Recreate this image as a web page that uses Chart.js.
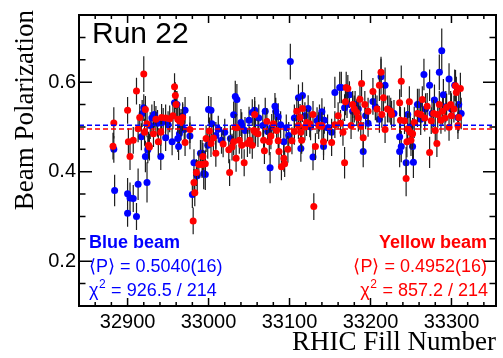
<!DOCTYPE html>
<html lang="en">
<head>
<meta charset="UTF-8" />
<title>Run 22 Beam Polarization</title>
<script src="https://cdn.jsdelivr.net/npm/chart.js"></script>
<style>
  body { margin: 0; background: #fff; }
  .wrap { width: 503px; height: 358px; position: relative; }
</style>
</head>
<body>
<div class="wrap"><canvas id="polChart"></canvas></div>
<script>
  // axis ranges and labelled ticks
  const xMin = 32840, xMax = 33355;
  const yMin = 0.1, yMax = 0.75;
  const xTickLabels = [32900, 33000, 33100, 33200, 33300];
  const yTickLabels = [0.2, 0.4, 0.6];

  // fit results
  const blueMean = 0.5040, redMean = 0.4952;

  // blue beam
  const blueFills = [
    32883,32884,32900,32900,32903,32907,32911,32913,32917,32918,
    32920,32922,32924,32925,32928,32930,32933,32937,32941,32944,
    32947,32950,32955,32958,32961,32962,32963,32964,32966,32968,
    32970,32971,32977,32980,32982,32986,32990,32992,32994,32996,
    32999,33000,33003,33004,33009,33012,33016,33020,33027,33031,
    33033,33035,33040,33041,33045,33050,33054,33057,33062,33067,
    33070,33073,33076,33078,33082,33083,33086,33089,33093,33096,
    33099,33101,33106,33111,33114,33116,33119,33123,33126,33129,
    33134,33137,33140,33142,33143,33147,33152,33156,33162,33164,
    33168,33171,33174,33178,33181,33185,33191,33194,33197,33203,
    33206,33211,33213,33218,33223,33229,33236,33236,33238,33244,
    33246,33249,33252,33253,33258,33260,33262,33266,33268,33273,
    33276,33279,33285,33288,33290,33293,33297,33300,33304,33308,
    33309,33312
  ];
  const bluePol = [
    0.450,0.358,0.351,0.307,0.341,0.340,0.300,0.372,0.478,0.530,
    0.543,0.434,0.376,0.449,0.503,0.520,0.528,0.508,0.434,0.512,
    0.476,0.505,0.467,0.554,0.550,0.474,0.456,0.485,0.500,0.525,
    0.494,0.537,0.480,0.349,0.420,0.391,0.441,0.441,0.396,0.394,
    0.459,0.539,0.537,0.507,0.481,0.495,0.470,0.488,0.474,0.527,
    0.568,0.561,0.510,0.503,0.492,0.515,0.532,0.537,0.520,0.503,
    0.535,0.490,0.409,0.499,0.546,0.535,0.523,0.505,0.467,0.498,
    0.481,0.646,0.520,0.565,0.452,0.570,0.525,0.541,0.500,0.433,
    0.514,0.520,0.534,0.456,0.515,0.498,0.488,0.577,0.588,0.588,
    0.543,0.550,0.572,0.535,0.550,0.540,0.445,0.525,0.508,0.557,
    0.545,0.517,0.612,0.593,0.540,0.530,0.445,0.478,0.456,0.420,
    0.528,0.500,0.456,0.421,0.550,0.550,0.517,0.617,0.540,0.593,
    0.530,0.560,0.622,0.670,0.572,0.545,0.607,0.540,0.593,0.521,
    0.550,0.530
  ];
  const blueErr = [
    0.030,0.035,0.035,0.030,0.035,0.030,0.030,0.035,0.030,0.030,
    0.030,0.035,0.045,0.030,0.030,0.030,0.030,0.030,0.030,0.030,
    0.030,0.030,0.030,0.030,0.030,0.030,0.030,0.030,0.030,0.030,
    0.030,0.030,0.030,0.030,0.030,0.035,0.030,0.030,0.035,0.035,
    0.030,0.030,0.030,0.030,0.030,0.030,0.030,0.030,0.030,0.030,
    0.035,0.035,0.030,0.030,0.030,0.030,0.030,0.030,0.030,0.030,
    0.030,0.030,0.035,0.030,0.030,0.030,0.030,0.030,0.030,0.030,
    0.030,0.040,0.030,0.030,0.030,0.030,0.030,0.030,0.030,0.030,
    0.030,0.030,0.030,0.030,0.030,0.030,0.030,0.035,0.035,0.035,
    0.030,0.030,0.030,0.030,0.030,0.030,0.035,0.030,0.030,0.030,
    0.030,0.030,0.040,0.040,0.030,0.030,0.035,0.035,0.035,0.035,
    0.035,0.030,0.035,0.035,0.035,0.035,0.035,0.035,0.035,0.035,
    0.035,0.035,0.040,0.050,0.035,0.035,0.035,0.035,0.035,0.035,
    0.035,0.035
  ];

  // yellow beam
  const redFills = [
    32882,32883,32900,32901,32903,32907,32911,32913,32915,32920,
    32921,32922,32924,32926,32927,32932,32935,32938,32941,32942,
    32947,32952,32956,32958,32959,32960,32962,32964,32966,32968,
    32971,32977,32981,32982,32983,32985,32988,32992,32993,32996,
    32997,33001,33003,33006,33009,33018,33025,33026,33029,33031,
    33033,33034,33035,33038,33041,33044,33048,33051,33054,33056,
    33057,33058,33061,33068,33069,33072,33075,33077,33080,33084,
    33086,33087,33090,33093,33094,33098,33103,33106,33109,33111,
    33113,33114,33115,33116,33119,33121,33125,33129,33130,33132,
    33136,33140,33142,33152,33156,33160,33163,33166,33168,33169,
    33170,33172,33176,33178,33180,33183,33185,33187,33188,33189,
    33191,33193,33197,33203,33208,33211,33213,33214,33216,33218,
    33221,33225,33226,33236,33237,33238,33242,33244,33245,33246,
    33248,33249,33250,33252,33254,33258,33262,33264,33267,33270,
    33273,33275,33278,33280,33282,33283,33285,33287,33289,33292,
    33294,33297,33299,33300,33303,33305,33306,33308,33309,33311
  ];
  const redPol = [
    0.457,0.509,0.537,0.467,0.434,0.470,0.580,0.496,0.521,0.618,
    0.488,0.539,0.507,0.459,0.455,0.485,0.517,0.467,0.488,0.521,
    0.520,0.518,0.525,0.590,0.570,0.550,0.517,0.514,0.510,0.521,
    0.465,0.494,0.290,0.376,0.353,0.398,0.416,0.416,0.434,0.418,
    0.474,0.491,0.463,0.475,0.441,0.462,0.449,0.398,0.455,0.467,
    0.499,0.430,0.498,0.470,0.459,0.420,0.463,0.470,0.459,0.492,
    0.528,0.488,0.485,0.470,0.447,0.512,0.467,0.480,0.507,0.492,
    0.469,0.445,0.411,0.430,0.418,0.450,0.469,0.490,0.535,0.503,
    0.521,0.488,0.470,0.541,0.500,0.510,0.507,0.528,0.322,0.456,
    0.503,0.503,0.467,0.465,0.505,0.525,0.508,0.488,0.420,0.556,
    0.588,0.586,0.503,0.550,0.540,0.532,0.520,0.562,0.503,0.597,
    0.476,0.550,0.535,0.579,0.540,0.593,0.622,0.528,0.565,0.494,
    0.540,0.535,0.528,0.554,0.515,0.602,0.514,0.385,0.467,0.496,
    0.556,0.488,0.470,0.485,0.510,0.530,0.528,0.561,0.520,0.546,
    0.443,0.514,0.530,0.492,0.463,0.528,0.550,0.515,0.535,0.520,
    0.544,0.499,0.550,0.525,0.540,0.592,0.577,0.503,0.521,0.586
  ];
  const redErr = [
    0.030,0.035,0.030,0.030,0.030,0.030,0.030,0.030,0.030,0.040,
    0.030,0.030,0.030,0.030,0.030,0.030,0.030,0.030,0.030,0.030,
    0.030,0.030,0.030,0.030,0.030,0.030,0.030,0.030,0.030,0.030,
    0.030,0.030,0.030,0.030,0.030,0.030,0.030,0.030,0.030,0.030,
    0.030,0.030,0.030,0.030,0.030,0.030,0.030,0.030,0.030,0.030,
    0.030,0.030,0.030,0.030,0.030,0.030,0.030,0.030,0.030,0.030,
    0.030,0.030,0.030,0.030,0.030,0.030,0.030,0.030,0.030,0.030,
    0.030,0.030,0.030,0.030,0.030,0.030,0.030,0.030,0.030,0.030,
    0.030,0.030,0.030,0.030,0.030,0.030,0.030,0.030,0.030,0.030,
    0.030,0.030,0.030,0.030,0.030,0.030,0.030,0.030,0.035,0.030,
    0.035,0.030,0.030,0.030,0.030,0.030,0.030,0.030,0.030,0.030,
    0.035,0.030,0.030,0.030,0.030,0.035,0.035,0.030,0.030,0.030,
    0.030,0.030,0.030,0.030,0.030,0.035,0.030,0.040,0.035,0.035,
    0.035,0.035,0.035,0.035,0.035,0.030,0.030,0.030,0.030,0.030,
    0.035,0.030,0.030,0.030,0.030,0.030,0.030,0.030,0.030,0.030,
    0.030,0.030,0.030,0.030,0.030,0.035,0.035,0.030,0.030,0.035
  ];

  const blueText = ['Blue beam', '\u27E8P\u27E9 = 0.5040(16)', '926.5 / 214'];
  const redText = ['Yellow beam', '\u27E8P\u27E9 = 0.4952(16)', '857.2 / 214'];

  const SANS = '"Liberation Sans", Arial, sans-serif';
  const SERIF = '"Liberation Serif", "Times New Roman", serif';
  Chart.defaults.font.family = SANS;

  const errorBars = {
    id: 'errorBars',
    beforeDatasetDraw(chart, args) {
      const ds = chart.data.datasets[args.index];
      if (!ds.errors) return;
      const ctx = chart.ctx, ys = chart.scales.y;
      ctx.save();
      ctx.strokeStyle = '#1e1e1e';
      ctx.lineWidth = 1.2;
      ctx.beginPath();
      args.meta.data.forEach((pt, i) => {
        const v = ds.data[i].y, e = ds.errors[i];
        ctx.moveTo(pt.x, ys.getPixelForValue(v + e));
        ctx.lineTo(pt.x, ys.getPixelForValue(v - e));
      });
      ctx.stroke();
      ctx.restore();
    }
  };

  function chiLine(ctx, rest, x, y, align) {
    ctx.font = '18px ' + SANS;
    const w1 = ctx.measureText('\u03C7').width;
    ctx.font = '12px ' + SANS;
    const w2 = ctx.measureText('2').width;
    ctx.font = '18px ' + SANS;
    const w3 = ctx.measureText(' = ' + rest).width;
    let x0 = align === 'right' ? x - (w1 + w2 + w3) : x;
    ctx.textAlign = 'left';
    ctx.fillText('\u03C7', x0, y);
    ctx.font = '12px ' + SANS;
    ctx.fillText('2', x0 + w1 + 0.5, y - 8);
    ctx.font = '18px ' + SANS;
    ctx.fillText(' = ' + rest, x0 + w1 + w2 + 1, y);
  }

  const frame = {
    id: 'frame',
    afterDraw(chart) {
      const ctx = chart.ctx, a = chart.chartArea;
      const xs = chart.scales.x, ys = chart.scales.y;
      ctx.save();
      ctx.strokeStyle = '#000';
      ctx.lineWidth = 1.5;
      ctx.beginPath();
      for (let v = 32860; v < xMax; v += 20) {
        const px = xs.getPixelForValue(v);
        const len = xTickLabels.includes(v) ? 8 : 4;
        ctx.moveTo(px, a.bottom); ctx.lineTo(px, a.bottom - len);
        ctx.moveTo(px, a.top); ctx.lineTo(px, a.top + len);
      }
      for (let k = 3; k < 15; k++) {
        const v = k * 0.05;
        const py = ys.getPixelForValue(v);
        const len = (k % 4 === 0) ? 13 : 6.5;
        ctx.moveTo(a.left, py); ctx.lineTo(a.left + len, py);
        ctx.moveTo(a.right, py); ctx.lineTo(a.right - len, py);
      }
      ctx.stroke();
      ctx.lineWidth = 2;
      ctx.strokeRect(a.left, a.top, a.right - a.left, a.bottom - a.top);

      ctx.fillStyle = '#000';
      ctx.textBaseline = 'alphabetic';
      ctx.font = '30px ' + SANS;
      ctx.textAlign = 'left';
      ctx.fillText('Run 22', 92, 43);

      ctx.font = '27px ' + SERIF;
      ctx.textAlign = 'right';
      ctx.fillText('RHIC Fill Number', 496, 350);
      ctx.save();
      ctx.translate(33, 10);
      ctx.rotate(-Math.PI / 2);
      ctx.fillText('Beam Polarization', 0, 0);
      ctx.restore();

      ctx.fillStyle = '#0000ff';
      ctx.textAlign = 'left';
      ctx.font = 'bold 18px ' + SANS;
      ctx.fillText(blueText[0], 89, 248);
      ctx.font = '18px ' + SANS;
      ctx.fillText(blueText[1], 89, 272);
      chiLine(ctx, blueText[2], 89, 296, 'left');

      ctx.fillStyle = '#ff0000';
      ctx.textAlign = 'right';
      ctx.font = 'bold 18px ' + SANS;
      ctx.fillText(redText[0], 487, 248);
      ctx.font = '18px ' + SANS;
      ctx.fillText(redText[1], 487, 272);
      chiLine(ctx, redText[2], 487, 296, 'right');
      ctx.restore();
    }
  };

  const toPoints = (xs, ys) => xs.map((x, i) => ({ x: x, y: ys[i] }));

  new Chart(document.getElementById('polChart'), {
    type: 'scatter',
    data: {
      datasets: [
        {
          type: 'line', data: [{ x: xMin, y: blueMean }, { x: xMax, y: blueMean }],
          borderColor: '#0000ff', borderWidth: 1.5, borderDash: [5, 3],
          pointRadius: 0, order: 0
        },
        {
          type: 'line', data: [{ x: xMin, y: redMean }, { x: xMax, y: redMean }],
          borderColor: '#ff0000', borderWidth: 1.5, borderDash: [5, 3],
          pointRadius: 0, order: 0
        },
        {
          label: 'Yellow beam', data: toPoints(redFills, redPol), errors: redErr,
          backgroundColor: '#ff0000', pointRadius: 3.5, pointBorderWidth: 0, order: 1
        },
        {
          label: 'Blue beam', data: toPoints(blueFills, bluePol), errors: blueErr,
          backgroundColor: '#0000ff', pointRadius: 3.5, pointBorderWidth: 0, order: 2
        }
      ]
    },
    options: {
      responsive: true,
      maintainAspectRatio: false,
      animation: false,
      layout: { padding: { top: 8, right: 7, left: 0, bottom: 0 } },
      plugins: { legend: { display: false }, tooltip: { enabled: false } },
      scales: {
        x: {
          type: 'linear', min: xMin, max: xMax,
          grid: { display: false, drawTicks: false }, border: { display: false },
          afterBuildTicks: s => { s.ticks = xTickLabels.map(v => ({ value: v })); },
          afterFit: s => { s.height = 52; },
          ticks: {
            font: { size: 20 }, color: '#000', padding: 4,
            maxRotation: 0, autoSkip: false, callback: v => String(v)
          }
        },
        y: {
          type: 'linear', min: yMin, max: yMax,
          grid: { display: false, drawTicks: false }, border: { display: false },
          afterBuildTicks: s => { s.ticks = yTickLabels.map(v => ({ value: v })); },
          afterFit: s => { s.width = 79; },
          ticks: {
            font: { size: 20 }, color: '#000', padding: 3,
            callback: v => v.toFixed(1)
          }
        }
      }
    },
    plugins: [errorBars, frame]
  });
</script>
</body>
</html>
